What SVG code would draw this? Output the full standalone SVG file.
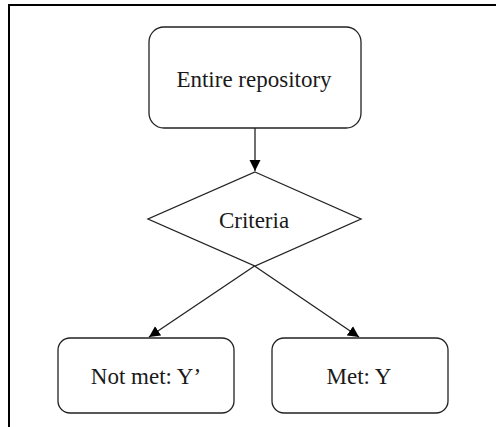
<svg xmlns="http://www.w3.org/2000/svg" width="496" height="427" viewBox="0 0 496 427">
  <style>
    .shape { fill: #ffffff; stroke: #222222; stroke-width: 1.3; }
    .label { font-family: "Liberation Serif", "Times New Roman", serif; font-size: 23px; fill: #1a1a1a; text-anchor: middle; }
    .edge { fill: none; stroke: #222222; stroke-width: 1.3; }
    .frame { fill: none; stroke: #000000; stroke-width: 2; }
  </style>
  <defs>
    <marker id="arrow" viewBox="0 0 12 12" refX="11" refY="6" markerWidth="12" markerHeight="12" markerUnits="userSpaceOnUse" orient="auto">
      <path d="M0,0.5 L11,6 L0,11.5 Z" fill="#000000"/>
    </marker>
  </defs>

  <rect width="496" height="427" fill="#ffffff"/>
  <!-- outer frame: top and left edges only -->
  <path class="frame" d="M9,427 L9,5 L496,5"/>

  <g id="connectors">
    <line class="edge" x1="255" y1="128" x2="255" y2="171" marker-end="url(#arrow)"/>
    <line class="edge" x1="254.5" y1="266" x2="149" y2="337" marker-end="url(#arrow)"/>
    <line class="edge" x1="254.5" y1="266" x2="359" y2="337" marker-end="url(#arrow)"/>
  </g>

  <g id="node-repository">
    <rect class="shape" x="149" y="27" width="212" height="101" rx="15" ry="15"/>
    <text class="label" x="254" y="87">Entire repository</text>
  </g>

  <g id="node-criteria">
    <polygon class="shape" points="255,172 361,219 255,266 148,219"/>
    <text class="label" x="254" y="228">Criteria</text>
  </g>

  <g id="node-not-met">
    <rect class="shape" x="58" y="338" width="176" height="75" rx="12" ry="12"/>
    <text class="label" x="146" y="384">Not met: Y’</text>
  </g>

  <g id="node-met">
    <rect class="shape" x="272" y="338" width="176" height="75" rx="12" ry="12"/>
    <text class="label" x="359" y="384">Met: Y</text>
  </g>
</svg>
